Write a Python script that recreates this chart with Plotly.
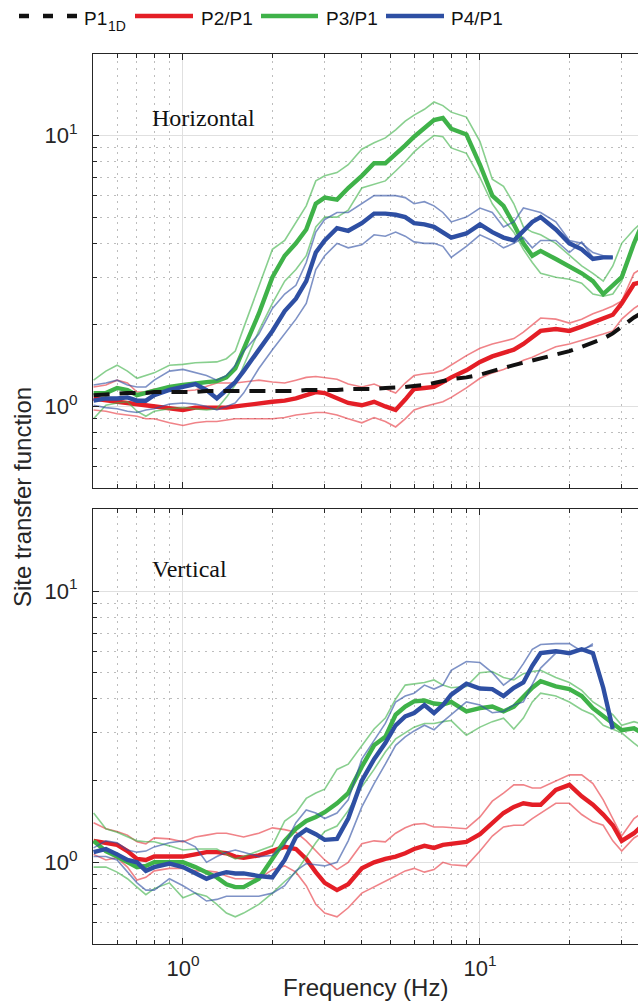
import plotly.graph_objects as go

# ---------------- data ----------------
FREQ = [0.5, 0.55, 0.6, 0.65, 0.7, 0.75, 0.8, 0.9, 1.0, 1.1,
        1.2, 1.3, 1.4, 1.5, 1.6, 1.8, 2.0, 2.2, 2.4, 2.6,
        2.8, 3.0, 3.3, 3.6, 4.0, 4.4, 4.8, 5.2, 5.6, 6.0,
        6.5, 7.0, 7.5, 8.0, 9.0, 10, 11, 12, 13, 14,
        15, 16, 18, 20, 22, 24, 26, 28, 30, 33, 36]

# Horizontal panel
H_P1_1D = [1.10, 1.11, 1.11, 1.12, 1.12, 1.12, 1.13, 1.13, 1.13, 1.13,
           1.14, 1.14, 1.14, 1.14, 1.14, 1.14, 1.14, 1.14, 1.14, 1.15,
           1.15, 1.15, 1.15, 1.16, 1.16, 1.16, 1.17, 1.17, 1.18, 1.19,
           1.20, 1.22, 1.24, 1.26, 1.28, 1.31, 1.35, 1.39, 1.42, 1.45,
           1.48, 1.50, 1.55, 1.60, 1.66, 1.72, 1.78, 1.86, 1.97, 2.13, 2.25]

H_P2 = [1.07, 1.05, 1.04, 1.03, 1.02, 1.01, 1.00, 0.98, 0.97, 0.99,
        0.99, 0.99, 0.99, 1.00, 1.01, 1.03, 1.04, 1.05, 1.07, 1.10,
        1.13, 1.12, 1.07, 1.03, 1.01, 1.04, 1.00, 0.97, 1.06, 1.16,
        1.17, 1.18, 1.23, 1.28, 1.36, 1.46, 1.53, 1.58, 1.62, 1.70,
        1.80, 1.90, 1.93, 1.90, 1.97, 2.04, 2.10, 2.18, 2.40, 2.83, 2.90]
H_P2_HI = [1.18, 1.20, 1.25, 1.22, 1.13, 1.13, 1.16, 1.15, 1.14, 1.15,
           1.19, 1.22, 1.22, 1.22, 1.23, 1.25, 1.23, 1.22, 1.25, 1.28,
           1.29, 1.28, 1.26, 1.21, 1.18, 1.21, 1.16, 1.12, 1.22, 1.30,
           1.32, 1.33, 1.36, 1.42, 1.54, 1.64, 1.70, 1.74, 1.78, 1.88,
           2.00, 2.12, 2.10, 2.03, 2.10, 2.20, 2.27, 2.35, 2.45, 3.10, 3.30]
H_P2_LO = [0.97, 0.96, 0.94, 0.93, 0.92, 0.90, 0.90, 0.87, 0.85, 0.87,
           0.88, 0.88, 0.89, 0.90, 0.90, 0.90, 0.90, 0.91, 0.93, 0.94,
           0.95, 0.95, 0.93, 0.90, 0.87, 0.91, 0.88, 0.84, 0.90, 0.97,
           1.00, 1.02, 1.04, 1.08, 1.17, 1.27, 1.33, 1.37, 1.42, 1.48,
           1.52, 1.57, 1.66, 1.70, 1.75, 1.80, 1.85, 1.90, 2.10, 2.30, 2.45]

H_P3 = [1.12, 1.12, 1.17, 1.15, 1.10, 1.12, 1.15, 1.18, 1.20, 1.22,
        1.23, 1.24, 1.28, 1.38, 1.62, 2.20, 3.00, 3.60, 4.00, 4.50,
        5.60, 5.90, 5.80, 6.40, 7.10, 7.90, 7.90, 8.50, 9.20, 9.90,
        10.6, 11.4, 11.6, 10.6, 10.1, 7.80, 6.00, 5.50, 4.70, 4.00,
        3.60, 3.75, 3.50, 3.30, 3.10, 2.90, 2.60, 2.80, 3.00, 4.00, 5.00]
H_P3_HI = [1.25, 1.35, 1.42, 1.35, 1.27, 1.30, 1.33, 1.42, 1.43, 1.45,
           1.46, 1.46, 1.50, 1.60, 1.95, 2.80, 3.80, 4.10, 4.80, 5.50,
           6.80, 7.10, 7.30, 7.80, 8.90, 9.40, 9.80, 10.5, 11.3, 11.9,
           12.5, 13.3, 12.9, 12.2, 11.7, 9.50, 6.90, 6.50, 5.60, 4.60,
           4.40, 4.30, 4.00, 3.60, 3.30, 3.10, 2.90, 3.30, 4.00, 4.50, 4.90]
H_P3_LO = [0.90, 1.01, 1.03, 1.04, 0.96, 0.92, 0.96, 0.98, 0.99, 0.98,
           0.97, 0.98, 1.08, 1.20, 1.42, 1.90, 2.40, 2.90, 3.20, 3.60,
           4.60, 5.00, 5.00, 5.30, 6.40, 6.60, 6.80, 7.40, 8.00, 8.70,
           9.40, 10.0, 9.90, 9.00, 8.60, 7.00, 5.60, 4.90, 4.40, 3.80,
           3.40, 3.10, 3.00, 2.95, 2.85, 2.60, 2.55, 2.60, 2.90, 4.00, 4.50]

H_P4 = [1.05, 1.07, 1.07, 1.08, 1.05, 1.05, 1.10, 1.15, 1.18, 1.21,
        1.15, 1.07, 1.15, 1.23, 1.35, 1.62, 1.90, 2.25, 2.50, 2.90,
        3.70, 4.10, 4.55, 4.45, 4.75, 5.15, 5.15, 5.10, 5.00, 4.75,
        4.70, 4.60, 4.40, 4.20, 4.35, 4.70, 4.40, 4.20, 4.10, 4.45,
        4.80, 5.00, 4.50, 4.00, 3.80, 3.50, 3.55, 3.55, None, None, None]
H_P4_HI = [1.20, 1.22, 1.25, 1.20, 1.18, 1.18, 1.25, 1.35, 1.37, 1.33,
           1.30, 1.25, 1.30, 1.42, 1.60, 1.85, 2.30, 2.60, 2.80, 3.40,
           4.40, 4.90, 5.20, 5.20, 5.60, 6.00, 6.00, 6.00, 5.90, 5.60,
           5.70, 5.50, 5.20, 4.80, 5.00, 5.40, 5.20, 4.60, 4.80, 5.40,
           5.30, 5.20, 4.80, 4.10, 4.00, 3.70, 3.60, 3.55, None, None, None]
H_P4_LO = [1.01, 0.99, 0.98, 0.96, 0.95, 0.97, 0.98, 1.02, 1.03, 1.02,
           1.00, 0.97, 1.00, 1.03, 1.12, 1.38, 1.62, 1.85, 2.10, 2.40,
           3.20, 3.60, 4.00, 3.85, 3.95, 4.30, 4.25, 4.40, 4.25, 4.05,
           4.00, 4.00, 3.90, 3.55, 3.90, 4.30, 4.10, 3.85, 4.00, 4.20,
           3.85, 4.10, 4.10, 3.70, 4.05, 3.55, 3.55, 3.55, None, None, None]

# Vertical panel
V_P2 = [1.20, 1.18, 1.16, 1.10, 1.03, 1.02, 1.05, 1.05, 1.05, 1.07,
        1.09, 1.09, 1.08, 1.05, 1.04, 1.06, 1.10, 1.14, 1.12, 1.03,
        0.92, 0.84, 0.79, 0.83, 0.95, 1.00, 1.03, 1.05, 1.08, 1.12,
        1.15, 1.13, 1.16, 1.17, 1.19, 1.27, 1.40, 1.52, 1.60, 1.65,
        1.63, 1.63, 1.85, 1.93, 1.75, 1.63, 1.50, 1.37, 1.20, 1.28, 1.40]
V_P2_HI = [1.40, 1.33, 1.30, 1.26, 1.19, 1.17, 1.23, 1.22, 1.19, 1.24,
           1.26, 1.28, 1.28, 1.26, 1.24, 1.28, 1.34, 1.32, 1.29, 1.20,
           1.10, 1.02, 0.94, 1.00, 1.17, 1.20, 1.19, 1.28, 1.34, 1.38,
           1.39, 1.35, 1.35, 1.34, 1.33, 1.47, 1.68, 1.80, 1.93, 1.93,
           1.88, 1.88, 2.00, 2.10, 2.10, 1.95, 1.70, 1.45, 1.25, 1.45, 1.55]
V_P2_LO = [1.07, 1.02, 1.04, 0.96, 0.86, 0.88, 0.93, 0.95, 0.95, 0.93,
           0.93, 0.92, 0.89, 0.87, 0.87, 0.87, 0.94, 0.97, 0.92, 0.82,
           0.70, 0.65, 0.63, 0.68, 0.77, 0.81, 0.85, 0.89, 0.93, 0.95,
           0.92, 0.94, 1.00, 0.98, 0.97, 1.10, 1.25, 1.35, 1.37, 1.37,
           1.45, 1.52, 1.65, 1.65, 1.50, 1.41, 1.37, 1.20, 1.10, 1.23, 1.30]

V_P3 = [1.20, 1.10, 1.05, 1.00, 0.96, 0.97, 1.00, 1.00, 1.00, 0.96,
        0.92, 0.88, 0.83, 0.81, 0.81, 0.87, 1.03, 1.20, 1.33, 1.42,
        1.47, 1.53, 1.65, 1.80, 2.25, 2.70, 2.90, 3.50, 3.75, 3.92,
        3.95, 3.85, 3.82, 3.90, 3.60, 3.70, 3.75, 3.60, 3.75, 4.10,
        4.40, 4.65, 4.45, 4.35, 4.10, 3.70, 3.45, 3.25, 3.07, 3.12, 2.95]
V_P3_HI = [1.52, 1.33, 1.29, 1.24, 1.20, 1.19, 1.19, 1.15, 1.11, 1.12,
           1.12, 1.12, 1.07, 1.03, 1.05, 1.10, 1.15, 1.42, 1.52, 1.72,
           1.80, 1.86, 2.20, 2.30, 2.70, 3.10, 3.40, 4.00, 4.50, 4.55,
           4.60, 4.70, 4.50, 4.40, 4.45, 5.00, 5.05, 4.80, 4.70, 4.96,
           5.05, 5.10, 4.80, 4.60, 4.30, 3.90, 3.70, 3.50, 3.20, 3.30, 3.20]
V_P3_LO = [0.96, 0.96, 0.92, 0.87, 0.81, 0.76, 0.80, 0.84, 0.74, 0.77,
           0.75, 0.70, 0.65, 0.63, 0.65, 0.70, 0.77, 0.85, 0.92, 1.05,
           1.18, 1.30, 1.36, 1.55, 1.90, 2.20, 2.55, 2.85, 3.00, 3.15,
           3.25, 3.25, 3.30, 3.33, 2.94, 3.15, 3.30, 3.40, 3.10, 3.40,
           3.90, 4.20, 4.10, 3.90, 3.65, 3.50, 3.20, 3.10, 3.00, 2.75, 2.55]

V_P4 = [1.09, 1.12, 1.07, 1.02, 1.00, 0.93, 0.96, 0.99, 0.96, 0.91,
        0.87, 0.90, 0.92, 0.91, 0.91, 0.89, 0.88, 1.02, 1.24, 1.32,
        1.27, 1.21, 1.22, 1.45, 2.00, 2.40, 2.75, 3.20, 3.45, 3.55,
        3.80, 3.55, 3.80, 4.15, 4.55, 4.37, 4.35, 4.10, 4.40, 4.60,
        5.30, 5.90, 6.00, 5.90, 6.10, 5.90, 4.40, 3.10, None, None, None]
V_P4_HI = [1.13, 1.20, 1.18, 1.11, 1.09, 1.10, 1.14, 1.18, 1.20, 1.14,
           1.00, 1.05, 1.09, 1.11, 1.09, 1.05, 1.06, 1.16, 1.40, 1.56,
           1.52, 1.45, 1.52, 1.70, 2.40, 2.80, 3.25, 3.90, 4.10, 4.20,
           4.50, 4.35, 4.50, 5.10, 5.50, 5.45, 5.00, 4.50, 4.80, 5.40,
           6.10, 6.35, 6.40, 6.40, 6.00, 6.40, None, None, None, None, None]
V_P4_LO = [1.05, 1.05, 1.02, 0.92, 0.84, 0.79, 0.79, 0.87, 0.82, 0.77,
           0.72, 0.73, 0.75, 0.75, 0.75, 0.75, 0.77, 0.82, 0.93, 0.99,
           0.98, 0.97, 1.00, 1.20, 1.60, 1.95, 2.30, 2.70, 2.90, 3.05,
           3.20, 3.08, 3.30, 3.50, 3.90, 3.80, 3.56, 3.60, 3.80, 3.90,
           4.50, 5.20, 5.90, 5.90, 6.10, 6.30, None, None, None, None, None]

MAJOR_TICKS = [1, 10]
MAJOR_TEXT = ["10<sup>0</sup>", "10<sup>1</sup>"]
MINOR_X = [0.6, 0.7, 0.8, 0.9, 2, 3, 4, 5, 6, 7, 8, 9, 20, 30]
MINOR_Y = [0.6, 0.7, 0.8, 0.9, 2, 3, 4, 5, 6, 7, 8, 9]
SERIES_NAMES = ["P2/P1", "P3/P1", "P4/P1"]
PANEL_NAMES = ["Horizontal", "Vertical"]

# ---------------- style ----------------
COLORS = ["#E41E26", "#3FB249", "#2E4FA3"]
LIGHT = ["rgba(228,30,38,0.55)", "rgba(63,178,73,0.62)", "rgba(46,79,163,0.62)"]
AX = "#262626"
SANS = "Liberation Sans, Arial, sans-serif"
SERIF = "Liberation Serif, Times New Roman, serif"

fig = go.Figure()

panels = [
    ("x", "y", [(H_P2, H_P2_HI, H_P2_LO), (H_P3, H_P3_HI, H_P3_LO), (H_P4, H_P4_HI, H_P4_LO)], H_P1_1D),
    ("x2", "y2", [(V_P2, V_P2_HI, V_P2_LO), (V_P3, V_P3_HI, V_P3_LO), (V_P4, V_P4_HI, V_P4_LO)], None),
]
for xa, ya, groups, ref in panels:
    for i, (mean, hi, lo) in enumerate(groups):
        for b in (hi, lo):
            fig.add_trace(go.Scatter(x=FREQ, y=b, mode="lines", xaxis=xa, yaxis=ya,
                                     line=dict(color=LIGHT[i], width=1.6),
                                     showlegend=False, hoverinfo="skip"))
        fig.add_trace(go.Scatter(x=FREQ, y=mean, mode="lines", xaxis=xa, yaxis=ya,
                                 line=dict(color=COLORS[i], width=4.4),
                                 name=SERIES_NAMES[i], showlegend=False))
    if ref is not None:
        fig.add_trace(go.Scatter(x=FREQ, y=ref, mode="lines", xaxis=xa, yaxis=ya,
                                 line=dict(color="#111111", width=4, dash="16px,10px"),
                                 name="P1_1D", showlegend=False))

def xaxis_cfg(labels, anchor):
    return dict(type="log", range=[-0.303, 1.532], domain=[0, 1], anchor=anchor,
                showline=True, linecolor=AX, linewidth=1.3, mirror="ticks",
                ticks="inside", ticklen=6, tickwidth=1, tickcolor=AX,
                tickvals=MAJOR_TICKS, ticktext=MAJOR_TEXT, showticklabels=labels,
                ticklabelstandoff=4,
                tickfont=dict(family=SANS, size=22, color=AX),
                showgrid=True, gridcolor="#e0e0e0", gridwidth=1, zeroline=False,
                minor=dict(tickmode="array", tickvals=MINOR_X, ticks="inside", ticklen=4,
                           tickcolor=AX, showgrid=True, gridcolor="#bdbdbd",
                           griddash="2px,5px", gridwidth=1))

def yaxis_cfg(domain, anchor):
    return dict(type="log", range=[-0.30103, 1.30103], domain=domain, anchor=anchor,
                showline=True, linecolor=AX, linewidth=1.3, mirror=False,
                ticks="inside", ticklen=6, tickwidth=1, tickcolor=AX,
                tickvals=MAJOR_TICKS, ticktext=MAJOR_TEXT, ticklabelstandoff=10,
                tickfont=dict(family=SANS, size=22, color=AX),
                showgrid=True, gridcolor="#e0e0e0", gridwidth=1, zeroline=False,
                minor=dict(tickmode="array", tickvals=MINOR_Y, ticks="inside", ticklen=4,
                           tickcolor=AX, showgrid=True, gridcolor="#bdbdbd",
                           griddash="2px,5px", gridwidth=1))

fig.update_layout(
    width=638, height=1004,
    margin=dict(l=93, r=0, t=54, b=60),
    paper_bgcolor="white", plot_bgcolor="white",
    showlegend=False,
    xaxis=xaxis_cfg(False, "y"),
    yaxis=yaxis_cfg([0.5124, 1.0], "x"),
    xaxis2=xaxis_cfg(True, "y2"),
    yaxis2=yaxis_cfg([0.0, 0.4884], "x2"),
)

# panel labels
fig.add_annotation(text=PANEL_NAMES[0], xref="x domain", yref="y domain", x=0.1046, y=0.8525,
                   xanchor="left", yanchor="middle", showarrow=False,
                   font=dict(family=SERIF, size=24, color="#111111"))
fig.add_annotation(text=PANEL_NAMES[1], xref="x2 domain", yref="y2 domain", x=0.1046, y=0.8628,
                   xanchor="left", yanchor="middle", showarrow=False,
                   font=dict(family=SERIF, size=24, color="#111111"))

# axis titles
fig.add_annotation(text="Site transfer function", xref="paper", yref="paper", x=-0.1303, y=0.5022,
                   textangle=-90, xanchor="center", yanchor="middle", showarrow=False,
                   font=dict(family=SANS, size=24, color=AX))
fig.add_annotation(text="Frequency (Hz)", xref="paper", yref="paper", x=0.4991, y=-0.0494,
                   xanchor="center", yanchor="middle", showarrow=False,
                   font=dict(family=SANS, size=24, color=AX))

# legend (drawn manually, MATLAB style)
def px(xp):
    return (xp - 93) / 545.0

def py(yp):
    return (944 - yp) / 890.0

LY = py(16)
fig.add_shape(type="line", xref="paper", yref="paper", x0=px(19), x1=px(78), y0=LY, y1=LY,
              line=dict(color="#111111", width=4.5, dash="10px,14px"))
fig.add_annotation(text="P1", xref="paper", yref="paper", x=px(82), y=py(18.5),
                   xanchor="left", yanchor="middle", showarrow=False,
                   font=dict(family=SANS, size=19, color="#111111"))
fig.add_annotation(text="1D", xref="paper", yref="paper", x=px(106), y=py(26),
                   xanchor="left", yanchor="middle", showarrow=False,
                   font=dict(family=SANS, size=14, color="#111111"))
leg = [(135, 193, 199), (261, 318, 324), (386, 444, 449)]
for i, (a, b, t) in enumerate(leg):
    fig.add_shape(type="line", xref="paper", yref="paper", x0=px(a), x1=px(b), y0=LY, y1=LY,
                  line=dict(color=COLORS[i], width=4.5))
    fig.add_annotation(text=SERIES_NAMES[i], xref="paper", yref="paper", x=px(t), y=py(18.5),
                       xanchor="left", yanchor="middle", showarrow=False,
                       font=dict(family=SANS, size=19, color="#111111"))

fig.write_html("out.html")
